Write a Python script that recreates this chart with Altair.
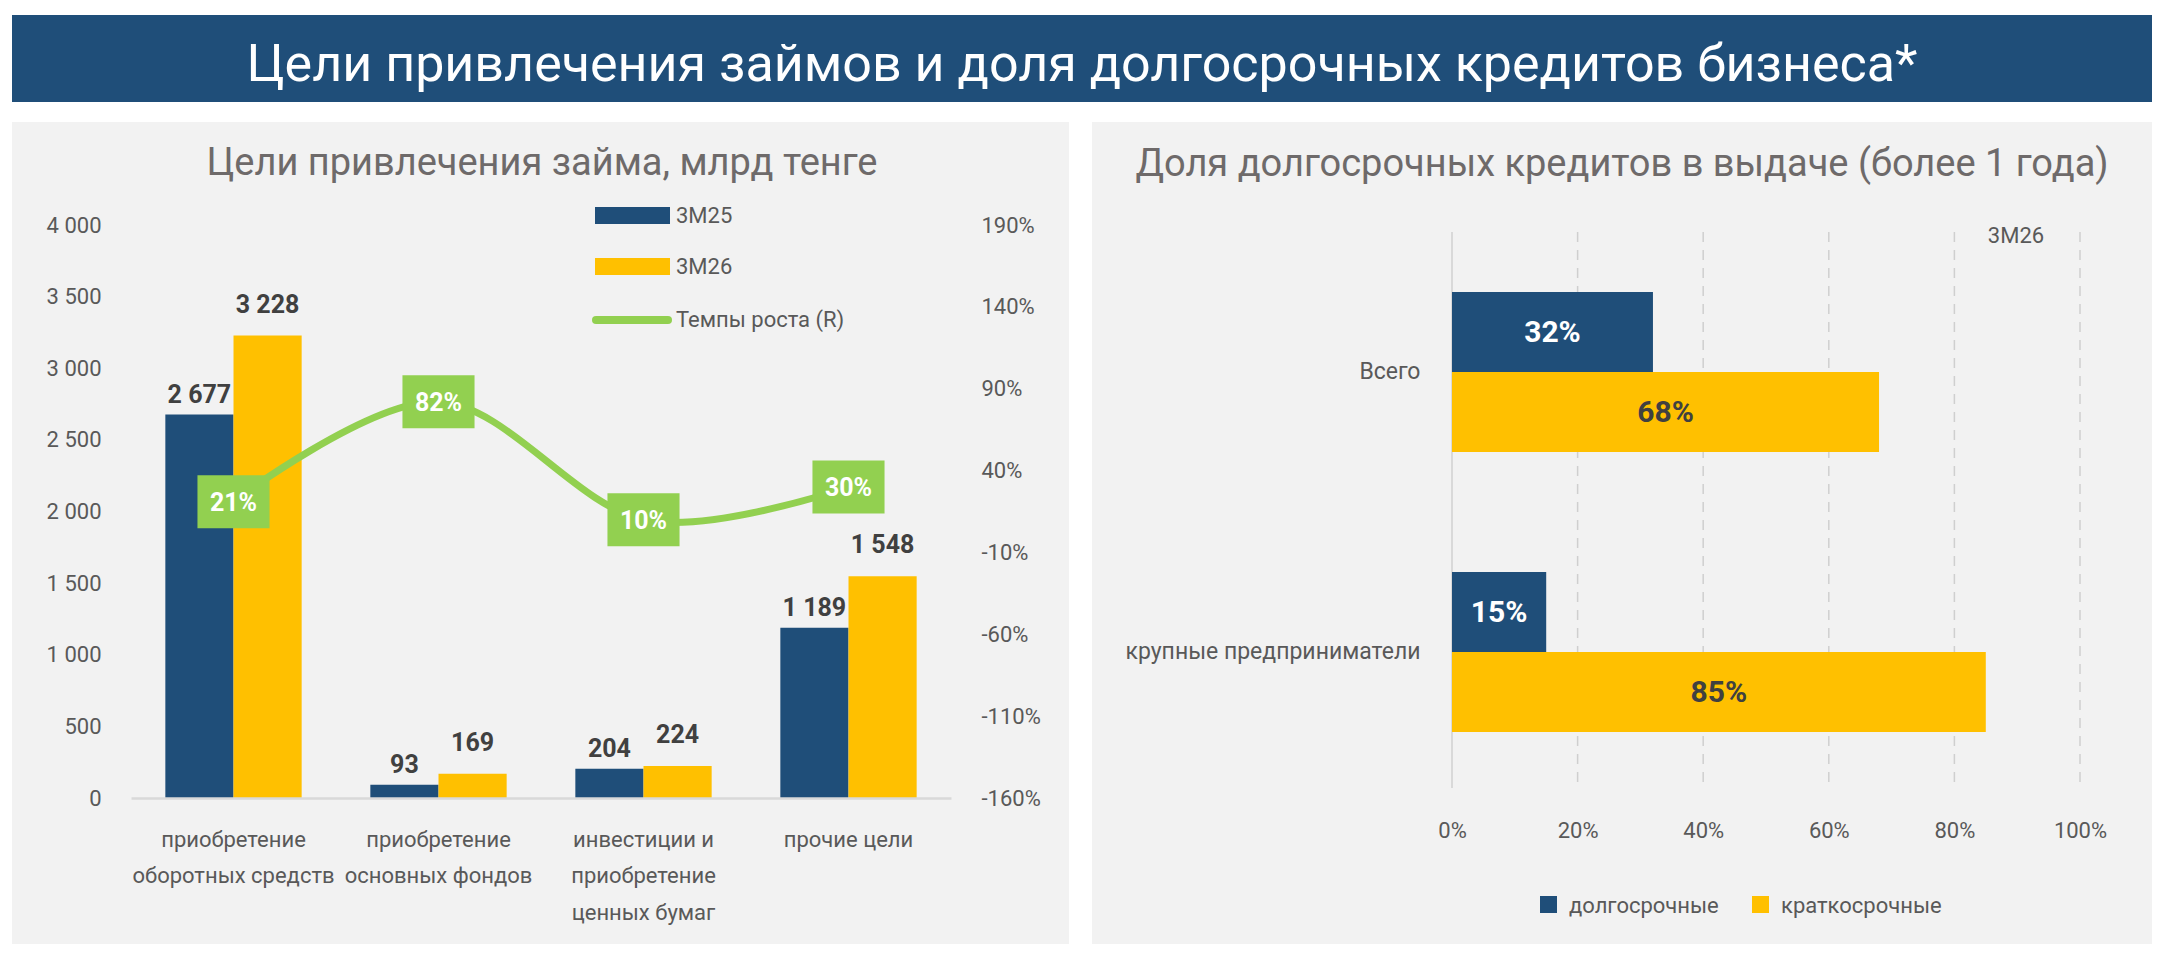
import altair as alt
import pandas as pd

# ---------------- data ----------------
main_title = "Цели привлечения займов и доля долгосрочных кредитов бизнеса*"
left_title = "Цели привлечения займа, млрд тенге"
right_title = "Доля долгосрочных кредитов в выдаче (более 1 года)"

purposes = [
    "приобретение\nоборотных средств",
    "приобретение\nосновных фондов",
    "инвестиции и\nприобретение\nценных бумаг",
    "прочие цели",
]
periods = ["3М25", "3М26"]
loans_3m25 = [2677, 93, 204, 1189]
loans_3m26 = [3228, 169, 224, 1548]
growth_pct = [21, 82, 10, 30]
growth_name = "Темпы роста (R)"
left_ticks = [0, 500, 1000, 1500, 2000, 2500, 3000, 3500, 4000]
right_ticks = [-160, -110, -60, -10, 40, 90, 140, 190]

segments = ["Всего", "крупные предприниматели"]
terms = ["долгосрочные", "краткосрочные"]
share_long = [0.32, 0.15]
share_short = [0.68, 0.85]
share_ticks = [0, 0.2, 0.4, 0.6, 0.8, 1.0]
share_period = "3М26"

# ---------------- style ----------------
FONT = "Roboto"
BLUE = "#1f4e79"
YELLOW = "#ffc000"
GREEN = "#92d050"
PANEL = "#f2f2f2"
GRAY = "#595959"
TITLE_GRAY = "#6e6a6a"
DARK = "#404040"
AXIS_LINE = "#d9d9d9"
GRID = "#cfcfcf"
BOX_SHAPE = "M-1.36,-1H1.36V1H-1.36Z"

one = pd.DataFrame({"k": [0]})


def deco_rect(color, x1, x2, y1, y2):
    return alt.Chart(one).mark_rect(color=color).encode(
        x=alt.value(x1), x2=alt.value(x2), y=alt.value(y1), y2=alt.value(y2)
    )


def deco_text(text, x, y, size, color, weight="normal", align="center", baseline="alphabetic"):
    return alt.Chart(pd.DataFrame({"t": [text]})).mark_text(
        font=FONT, fontSize=size, color=color, fontWeight=weight, align=align, baseline=baseline
    ).encode(x=alt.value(x), y=alt.value(y), text="t:N")


# ---------------- banner (origin aligned with left plot origin) ----------------
banner = alt.layer(
    deco_rect(BLUE, -119, 2021, 0, 87),
    deco_text(main_title, 951, 66, 52, "white"),
).properties(width=1800, height=87)

# ---------------- left panel ----------------
LW, LH = 820, 573
bars_df = pd.DataFrame({
    "purpose": purposes * 2,
    "period": [periods[0]] * len(purposes) + [periods[1]] * len(purposes),
    "value": loans_3m25 + loans_3m26,
})
growth_df = pd.DataFrame({"purpose": purposes, "growth": growth_pct})

x_left = alt.X(
    "purpose:N", sort=purposes,
    scale=alt.Scale(paddingInner=0.335, paddingOuter=0.1675),
    axis=alt.Axis(
        title=None, labelAngle=0, labelExpr="split(datum.label, '\\n')",
        labelFont=FONT, labelFontSize=22, labelColor=GRAY, labelLineHeight=36.7,
        labelPadding=31, labelLimit=0, ticks=False, domain=True,
        domainColor=AXIS_LINE, domainWidth=2.5, grid=False, zindex=1,
    ),
)
x_off = alt.XOffset("period:N", sort=periods, scale=alt.Scale(paddingInner=0, paddingOuter=0))
y_left = alt.Y(
    "value:Q", scale=alt.Scale(domain=[0, 4000], nice=False, zero=True),
    axis=alt.Axis(
        title=None, values=left_ticks, labelExpr="replace(format(datum.value, ','), ',', ' ')",
        labelFont=FONT, labelFontSize=22, labelColor=GRAY, labelPadding=30,
        ticks=False, domain=False, grid=False, zindex=1,
    ),
)

bars = alt.Chart(bars_df).mark_bar().encode(
    x=x_left, xOffset=x_off, y=y_left,
    color=alt.Color("period:N", sort=periods,
                    scale=alt.Scale(domain=periods, range=[BLUE, YELLOW]), legend=None),
)


def bar_labels(period, dy):
    return alt.Chart(bars_df).transform_filter(
        alt.datum.period == period
    ).transform_calculate(
        lbl="replace(format(datum.value, ','), ',', ' ')"
    ).mark_text(
        font=FONT, fontSize=25, fontWeight="bold", color=DARK, baseline="alphabetic", dy=dy
    ).encode(x=x_left, xOffset=x_off, y=y_left, text="lbl:N")


y_right = alt.Y(
    "growth:Q", scale=alt.Scale(domain=[-160, 190], nice=False, zero=False),
    axis=alt.Axis(
        orient="right", title=None, values=right_ticks, labelExpr="datum.value + '%'",
        labelFont=FONT, labelFontSize=22, labelColor=GRAY, labelPadding=30,
        ticks=False, domain=False, grid=False, zindex=1,
    ),
)
line = alt.Chart(growth_df).mark_line(color=GREEN, strokeWidth=7, interpolate="cardinal").encode(
    x=x_left, y=y_right
)
boxes = alt.Chart(growth_df).mark_point(
    shape=BOX_SHAPE, size=53 * 53, filled=True, color=GREEN, opacity=1, strokeWidth=0
).encode(x=x_left, y=y_right)
box_text = alt.Chart(growth_df).transform_calculate(
    lbl="datum.growth + '%'"
).mark_text(font=FONT, fontSize=25, fontWeight="bold", color="white", dy=1).encode(
    x=x_left, y=y_right, text="lbl:N"
)

left_legend = [
    deco_rect(BLUE, 464, 539, -18, -1),
    deco_text(periods[0], 545, -9, 22, GRAY, align="left", baseline="middle"),
    deco_rect(YELLOW, 464, 539, 33, 50),
    deco_text(periods[1], 545, 42, 22, GRAY, align="left", baseline="middle"),
    alt.Chart(one).mark_rule(color=GREEN, strokeWidth=8, strokeCap="round").encode(
        x=alt.value(465), x2=alt.value(537), y=alt.value(95)
    ),
    deco_text(growth_name, 545, 95, 22, GRAY, align="left", baseline="middle"),
]

left = alt.layer(
    deco_rect(PANEL, -119, 938, -103, 719),
    deco_text(left_title, 411, -50, 38, TITLE_GRAY),
    alt.layer(bars, bar_labels(periods[0], -12), bar_labels(periods[1], -23)),
    alt.layer(line, boxes, box_text),
    *left_legend,
).resolve_scale(y="independent").properties(width=LW, height=LH)

# ---------------- right panel ----------------
RW, RH = 628, 567
share_df = pd.DataFrame({
    "segment": segments * 2,
    "term": [terms[0]] * len(segments) + [terms[1]] * len(segments),
    "share": share_long + share_short,
})
zero_df = pd.DataFrame({"tick": share_ticks[:1]})
grid_df = pd.DataFrame({"tick": share_ticks[1:]})

x_share_scale = alt.Scale(domain=[0, 1], nice=False)
x_share_axis = alt.Axis(
    title=None, values=share_ticks, format=".0%", labelFont=FONT, labelFontSize=22,
    labelColor=GRAY, labelPadding=28, labelFlush=False, ticks=False, domain=False,
    grid=False, zindex=1,
)
y_seg = alt.Y(
    "segment:N", sort=segments,
    scale=alt.Scale(range=[7, 567], paddingInner=0.4286, paddingOuter=0.2143),
    axis=alt.Axis(
        title=None, labelFont=FONT, labelFontSize=23, labelColor=GRAY, labelPadding=32,
        labelLimit=0, ticks=False, domain=False, grid=False, zindex=1,
    ),
)
y_off = alt.YOffset("term:N", sort=terms, scale=alt.Scale(paddingInner=0, paddingOuter=0))

grid_rules = alt.Chart(grid_df).mark_rule(
    color=GRID, strokeWidth=1.5, strokeDash=[10, 8]
).encode(
    x=alt.X("tick:Q", scale=x_share_scale, axis=x_share_axis),
    y=alt.value(7), y2=alt.value(563),
)
zero_rule = alt.Chart(zero_df).mark_rule(color=AXIS_LINE, strokeWidth=2).encode(
    x=alt.X("tick:Q", scale=x_share_scale, axis=x_share_axis),
    y=alt.value(7), y2=alt.value(563),
)
hbars = alt.Chart(share_df).mark_bar().encode(
    x=alt.X("share:Q", scale=x_share_scale, axis=x_share_axis),
    y=y_seg, yOffset=y_off,
    color=alt.Color("term:N", sort=terms,
                    scale=alt.Scale(domain=terms, range=[BLUE, YELLOW]), legend=None),
)
hbar_text = alt.Chart(share_df).transform_calculate(
    mid="datum.share / 2"
).mark_text(font=FONT, fontSize=30, fontWeight="bold", dy=1).encode(
    x=alt.X("mid:Q", scale=x_share_scale, axis=x_share_axis),
    y=y_seg, yOffset=y_off,
    text=alt.Text("share:Q", format=".0%"),
    color=alt.condition(alt.datum.term == terms[0], alt.value("white"), alt.value(DARK)),
)

right_legend = [
    deco_rect(BLUE, 88, 105, 671, 688),
    deco_text(terms[0], 117, 681, 22, GRAY, align="left", baseline="middle"),
    deco_rect(YELLOW, 300, 317, 671, 688),
    deco_text(terms[1], 329, 681, 22, GRAY, align="left", baseline="middle"),
]

right = alt.layer(
    deco_rect(PANEL, -360, 700, -103, 719),
    deco_text(right_title, 170, -49, 38, TITLE_GRAY),
    grid_rules,
    zero_rule,
    hbars,
    hbar_text,
    deco_text(share_period, 564, 11, 22, GRAY, baseline="middle"),
    *right_legend,
).properties(width=RW, height=RH)

panels = alt.concat(left, right, columns=2, spacing=23, align="none").resolve_scale(
    color="independent"
)

chart = alt.vconcat(banner, panels, spacing=20).properties(
    padding={"left": 12, "top": 15, "right": 8, "bottom": 11},
    background="white",
).configure(font=FONT).configure_view(strokeWidth=0)

chart.save("out.html", embed_options={"renderer": "svg", "actions": False})
